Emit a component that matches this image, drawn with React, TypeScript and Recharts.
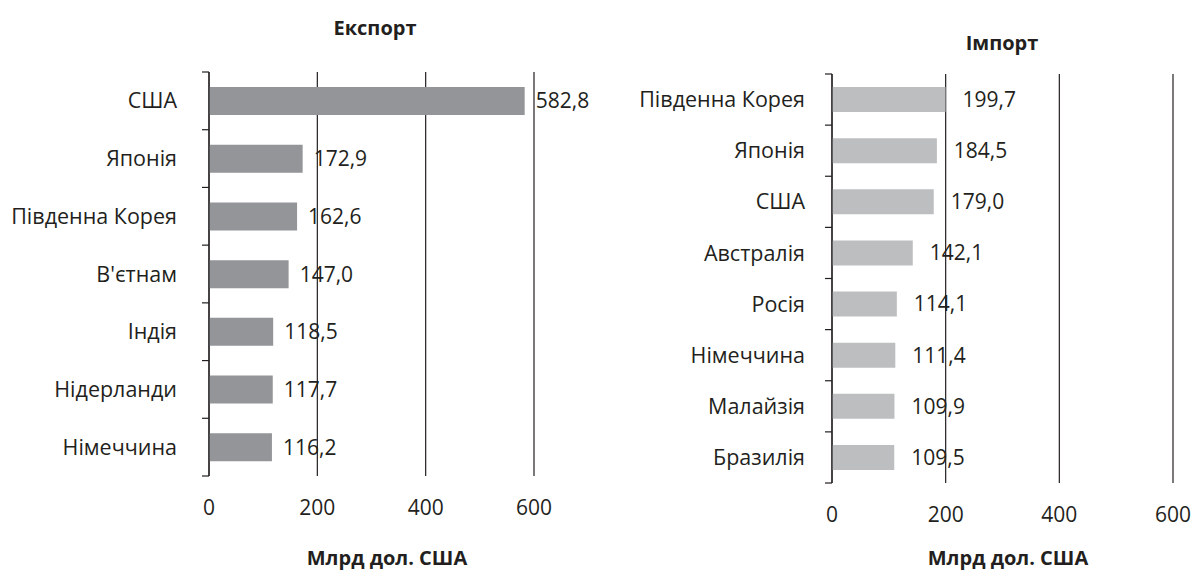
import React from 'react';
import { BarChart, Bar, XAxis, YAxis, CartesianGrid, LabelList } from 'recharts';

const exportCountries = ['США', 'Японія', 'Південна Корея', "В'єтнам", 'Індія', 'Нідерланди', 'Німеччина'];
const exportValues = [582.8, 172.9, 162.6, 147.0, 118.5, 117.7, 116.2];
const importCountries = ['Південна Корея', 'Японія', 'США', 'Австралія', 'Росія', 'Німеччина', 'Малайзія', 'Бразилія'];
const importValues = [199.7, 184.5, 179.0, 142.1, 114.1, 111.4, 109.9, 109.5];
const xTicks = [0, 200, 400, 600];
const exportTitle = 'Експорт';
const importTitle = 'Імпорт';
const unitLabel = 'Млрд дол. США';

const exportData = exportCountries.map((c, i) => ({ country: c, value: exportValues[i] }));
const importData = importCountries.map((c, i) => ({ country: c, value: importValues[i] }));

const INK = '#231f20';
const FONT = '"Open Sans", "Noto Sans", sans-serif';
const FS = 21;
const TICK_LEN = 7;
const fmt = (v: any) => Number(v).toFixed(1).replace('.', ',');

function makeCatTick(catMargin: number, count: number) {
  return function CatTick(p: any) {
    const { x, y, payload, index } = p;
    const half = payload && typeof payload.offset === 'number' ? payload.offset : 0;
    const axisX = x + catMargin;
    return (
      <g>
        <line x1={axisX - TICK_LEN} x2={axisX} y1={y - half} y2={y - half} stroke={INK} strokeWidth={1.2} />
        {index === count - 1 ? (
          <line x1={axisX - TICK_LEN} x2={axisX} y1={y + half} y2={y + half} stroke={INK} strokeWidth={1.2} />
        ) : null}
        <text x={x} y={y} dy="0.355em" textAnchor="end" fontSize={FS + 0.5} fill={INK} fontFamily={FONT}>
          {payload.value}
        </text>
      </g>
    );
  };
}

function Panel(props: {
  data: { country: string; value: number }[];
  left: number; width: number; top: number; right: number; yWidth: number; xHeight: number;
  color: string; barSize: number; labelOffset: number; catMargin: number;
}) {
  const n = props.data.length;
  const CatTick = makeCatTick(props.catMargin, n);
  return (
    <div style={{ position: 'absolute', left: props.left, top: 0 }}>
      <BarChart
        width={props.width}
        height={573}
        data={props.data}
        layout="vertical"
        margin={{ top: props.top, right: props.right, bottom: 0, left: 0 }}
      >
        <CartesianGrid horizontal={false} vertical={true} stroke={INK} strokeWidth={1.2} />
        <XAxis
          type="number"
          domain={[0, 600]}
          ticks={xTicks}
          axisLine={false}
          tickLine={false}
          tickSize={0}
          tickMargin={24}
          height={props.xHeight}
          interval={0}
          tick={{ fontSize: FS, fill: INK, fontFamily: FONT }}
        />
        <YAxis
          type="category"
          dataKey="country"
          width={props.yWidth}
          axisLine={{ stroke: INK, strokeWidth: 1.2 }}
          tickLine={false}
          tickSize={0}
          tickMargin={props.catMargin}
          interval={0}
          tick={<CatTick />}
        />
        <Bar dataKey="value" fill={props.color} barSize={props.barSize} isAnimationActive={false}>
          <LabelList
            dataKey="value"
            position="right"
            offset={props.labelOffset}
            formatter={fmt}
            style={{ fontSize: FS, fill: INK, fontFamily: FONT }}
          />
        </Bar>
      </BarChart>
    </div>
  );
}

const titleStyle = (cx: number, cy: number, size: number): React.CSSProperties => ({
  position: 'absolute',
  left: cx - 150,
  width: 300,
  top: cy - size * 0.7,
  textAlign: 'center',
  fontWeight: 700,
  fontSize: size,
  lineHeight: `${size * 1.4}px`,
  color: INK,
  fontFamily: FONT,
  whiteSpace: 'nowrap',
});

export default function App() {
  return (
    <div style={{ position: 'absolute', left: 0, top: 0, width: 1192, height: 573, background: '#fff', fontFamily: FONT }}>
      <Panel data={exportData} left={0} width={600} top={72} right={66} yWidth={209} xHeight={97}
        color="#939598" barSize={28} labelOffset={11} catMargin={32} />
      <Panel data={importData} left={600} width={592} top={74} right={19} yWidth={232} xHeight={90}
        color="#bcbec0" barSize={25} labelOffset={17} catMargin={27} />
      <div style={titleStyle(375, 28, 20)}>{exportTitle}</div>
      <div style={titleStyle(1002, 43, 20)}>{importTitle}</div>
      <div style={titleStyle(387, 558, 20)}>{unitLabel}</div>
      <div style={titleStyle(1008, 558, 20)}>{unitLabel}</div>
    </div>
  );
}
